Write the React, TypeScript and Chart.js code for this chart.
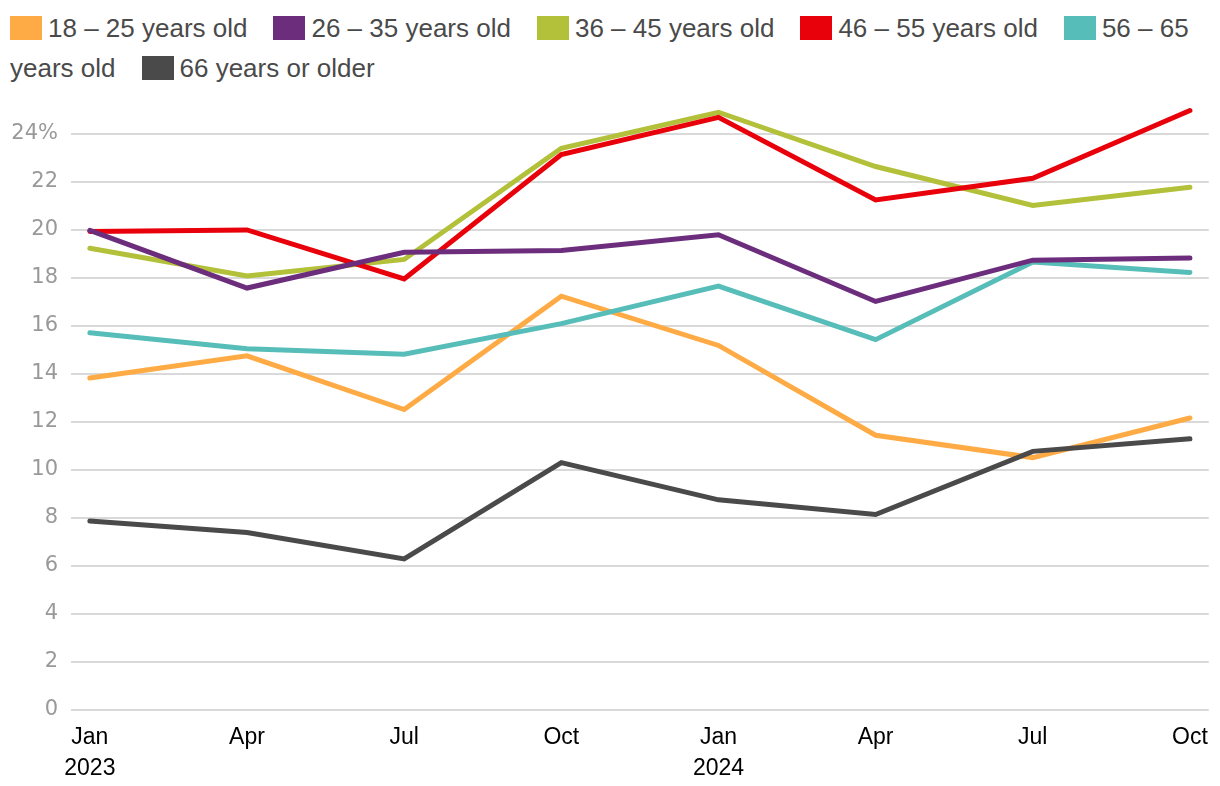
import React, { useEffect, useRef } from "react";
import { Chart, registerables } from "chart.js";

Chart.register(...registerables);

const categories = ["Jan", "Apr", "Jul", "Oct", "Jan", "Apr", "Jul", "Oct"];
const years = ["2023", "", "", "", "2024", "", "", ""];
const yTicks = [0, 2, 4, 6, 8, 10, 12, 14, 16, 18, 20, 22, 24];

const seriesNames = [
  "18 – 25 years old",
  "26 – 35 years old",
  "36 – 45 years old",
  "46 – 55 years old",
  "56 – 65 years old",
  "66 years or older",
];
const seriesColors = ["#FFAB45", "#6C2D7C", "#B2C03A", "#E8000B", "#57BDB8", "#4A4A4A"];
const drawOrder = [5, 0, 4, 2, 3, 1];

const age18to25 = [13.82, 14.75, 12.51, 17.23, 15.18, 11.44, 10.51, 12.16];
const age26to35 = [19.97, 17.57, 19.06, 19.13, 19.79, 17.01, 18.73, 18.82];
const age36to45 = [19.23, 18.07, 18.76, 23.39, 24.89, 22.63, 21.01, 21.77];
const age46to55 = [19.92, 19.99, 17.95, 23.13, 24.68, 21.24, 22.14, 24.96];
const age56to65 = [15.71, 15.04, 14.81, 16.09, 17.65, 15.42, 18.65, 18.22];
const age66plus = [7.87, 7.39, 6.29, 10.3, 8.75, 8.14, 10.77, 11.29];

const seriesValues = [age18to25, age26to35, age36to45, age46to55, age56to65, age66plus];

const FONT = "'Liberation Sans', Arial, Helvetica, sans-serif";
const Y_FONT = "'DejaVu Sans', Verdana, sans-serif";

export default function App() {
  const canvasRef = useRef<HTMLCanvasElement | null>(null);

  useEffect(() => {
    if (!canvasRef.current) return;
    const chart = new Chart(canvasRef.current, {
      type: "line",
      data: {
        datasets: seriesValues.map((vals, si) => ({
          label: seriesNames[si],
          data: vals.map((v, i) => ({ x: i, y: v })),
          borderColor: seriesColors[si],
          backgroundColor: seriesColors[si],
          borderWidth: 5,
          borderCapStyle: "round",
          borderJoinStyle: "miter",
          pointRadius: 0,
          pointHoverRadius: 0,
          fill: false,
          tension: 0,
          order: drawOrder[si],
          clip: false,
        })),
      },
      options: {
        animation: false,
        responsive: false,
        devicePixelRatio: 1,
        layout: { padding: { top: 7, right: 11, left: 0, bottom: 0 } },
        plugins: {
          legend: { display: false },
          tooltip: { enabled: false },
        },
        scales: {
          x: {
            type: "linear",
            min: -0.12,
            max: 7.12,
            afterBuildTicks: (scale: any) => {
              scale.ticks = categories.map((_, i) => ({ value: i }));
            },
            afterFit: (scale: any) => {
              scale.height = 76;
            },
            grid: { display: false, drawTicks: false },
            border: { display: false },
            ticks: {
              autoSkip: false,
              maxRotation: 0,
              minRotation: 0,
              color: "#000000",
              padding: 12,
              font: { family: FONT, size: 23, lineHeight: 1.35 },
              callback: (value: any) => {
                const i = Math.round(Number(value));
                const c = categories[i] ?? "";
                return years[i] ? [c, years[i]] : c;
              },
            },
          },
          y: {
            type: "linear",
            min: 0,
            max: 24.75,
            afterBuildTicks: (scale: any) => {
              scale.ticks = yTicks.map((v) => ({ value: v }));
            },
            afterFit: (scale: any) => {
              scale.width = 71;
            },
            grid: { color: "#D9D9D9", lineWidth: 2, drawTicks: false },
            border: { display: false },
            ticks: {
              color: "#999999",
              padding: 13,
              font: { family: Y_FONT, size: 21 },
              callback: (value: any) => {
                const v = Number(value);
                return v === yTicks[yTicks.length - 1] ? v + "%" : String(v);
              },
            },
          },
        },
      },
    });
    return () => chart.destroy();
  }, []);

  return (
    <div style={{ position: "absolute", left: 0, top: 0, width: 1220, height: 786, background: "#fff" }}>
      <div
        style={{
          position: "absolute",
          left: 10,
          top: 8,
          width: 1200,
          fontFamily: FONT,
          fontSize: 26,
          lineHeight: "40px",
          color: "#4A4A4A",
        }}
      >
        {seriesNames.map((name, i) => (
          <span key={name} style={{ marginRight: 26 }}>
            <span
              style={{
                display: "inline-block",
                width: 32,
                height: 24,
                background: seriesColors[i],
                verticalAlign: "-3px",
                marginRight: 6,
              }}
            />
            {name}
          </span>
        ))}
      </div>
      <canvas
        ref={canvasRef}
        width={1220}
        height={696}
        style={{ position: "absolute", left: 0, top: 90, width: 1220, height: 696 }}
      />
    </div>
  );
}
